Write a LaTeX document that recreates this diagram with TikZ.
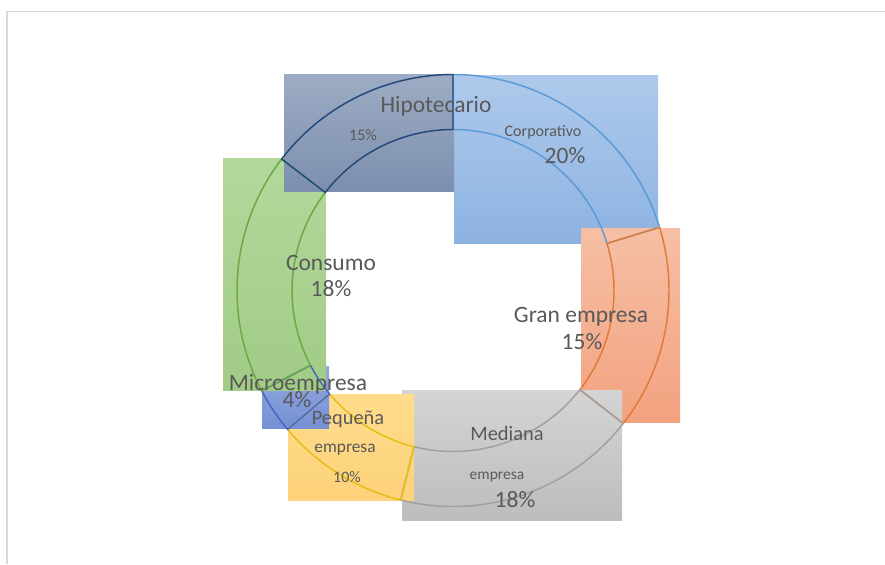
\documentclass[tikz,border=0pt]{standalone}
\usepackage{fontspec}
\setmainfont{Carlito}
\usepackage{tikz}
\definecolor{testo}{HTML}{595959}
\definecolor{cornice}{HTML}{D9D9D9}
\definecolor{corpsu}{HTML}{AEC9EB}
\definecolor{corpgiu}{HTML}{8DB3E2}
\definecolor{corplinea}{HTML}{5B9BD5}
\definecolor{gransu}{HTML}{F6BFA5}
\definecolor{grangiu}{HTML}{F3A27F}
\definecolor{granlinea}{HTML}{E07B39}
\definecolor{medsu}{HTML}{D4D4D4}
\definecolor{medgiu}{HTML}{BDBDBD}
\definecolor{medlinea}{HTML}{A0A0A0}
\definecolor{peqsu}{HTML}{FFDC8C}
\definecolor{peqgiu}{HTML}{FDD27A}
\definecolor{peqlinea}{HTML}{E9BC14}
\definecolor{microsu}{HTML}{93A8DD}
\definecolor{microgiu}{HTML}{7690D4}
\definecolor{microlinea}{HTML}{4169C0}
\definecolor{conssu}{HTML}{B3D89C}
\definecolor{consgiu}{HTML}{A2CB86}
\definecolor{conslinea}{HTML}{6AA944}
\definecolor{hiposu}{HTML}{9DACC4}
\definecolor{hipogiu}{HTML}{7D8FAE}
\definecolor{hipolinea}{HTML}{23497A}
\newcommand{\grande}{\fontsize{17.6pt}{20pt}\selectfont}
\newcommand{\medio}{\fontsize{15.3pt}{18pt}\selectfont}
\newcommand{\piccolo}{\fontsize{12pt}{14pt}\selectfont}

\begin{document}
\begin{tikzpicture}[x=0.75pt,y=-0.75pt,
    etichetta/.style={text=testo,anchor=base,inner sep=0pt},
    settore/.style={line width=1.1pt,line join=round}]
    \useasboundingbox (0,0) rectangle (885,564);
    % Cornice
    \draw[cornice,line width=1.1pt] (7,564) -- (7,11.5) -- (885,11.5);

    % Rettangoli delle etichette
    \fill[top color=corpsu,bottom color=corpgiu] (454,75) rectangle (658,243);
    \fill[top color=gransu,bottom color=grangiu] (581,228) rectangle (680,422);
    \fill[top color=medsu,bottom color=medgiu] (402,390) rectangle (622,520);
    \fill[top color=peqsu,bottom color=peqgiu] (288,394) rectangle (414,500);
    \fill[top color=microsu,bottom color=microgiu] (262,366) rectangle (329,428);
    \fill[top color=conssu,bottom color=consgiu] (223,158) rectangle (326,390);
    \fill[top color=hiposu,bottom color=hipogiu] (284,74) rectangle (454,191);

    % Anello
    \foreach \a/\b/\col in {-90/-17/corplinea,-17/38/granlinea,38/104/medlinea,
        104/140/peqlinea,140/152.3/microlinea,152.3/217.5/conslinea,217.5/270/hipolinea}
        \draw[settore,draw=\col,shift={(453,290.5)}] (\a:216)
            arc[start angle=\a,end angle=\b,radius=216] -- (\b:161)
            arc[start angle=\b,end angle=\a,radius=161] -- cycle;

    % Testi
    \node[etichetta,font=\grande] (hipo) at (436,112) {Hipotecario};
    \node[etichetta,font=\piccolo] (hipoval) at (363,140) {15\%};
    \node[etichetta,font=\piccolo] (corp) at (543,136) {Corporativo};
    \node[etichetta,font=\grande] (corpval) at (565,163) {20\%};
    \node[etichetta,font=\grande] (cons) at (331,270) {Consumo};
    \node[etichetta,font=\grande] (consval) at (331,296) {18\%};
    \node[etichetta,font=\grande] (gran) at (581,322) {Gran empresa};
    \node[etichetta,font=\grande] (granval) at (582,349) {15\%};
    \node[etichetta,font=\grande] (micro) at (298,390) {Microempresa};
    \node[etichetta,font=\grande] (microval) at (297,407) {4\%};
    \node[etichetta,font=\medio] (peq) at (348,424) {Pequeña};
    \node[etichetta,font=\fontsize{13pt}{15pt}\selectfont] (peqb) at (345,452) {empresa};
    \node[etichetta,font=\piccolo] (peqval) at (347,482) {10\%};
    \node[etichetta,font=\medio] (med) at (507,440) {Mediana};
    \node[etichetta,font=\fontsize{11.6pt}{14pt}\selectfont] (medb) at (497,479) {empresa};
    \node[etichetta,font=\grande] (medval) at (515,507) {18\%};
\end{tikzpicture}
\end{document}
